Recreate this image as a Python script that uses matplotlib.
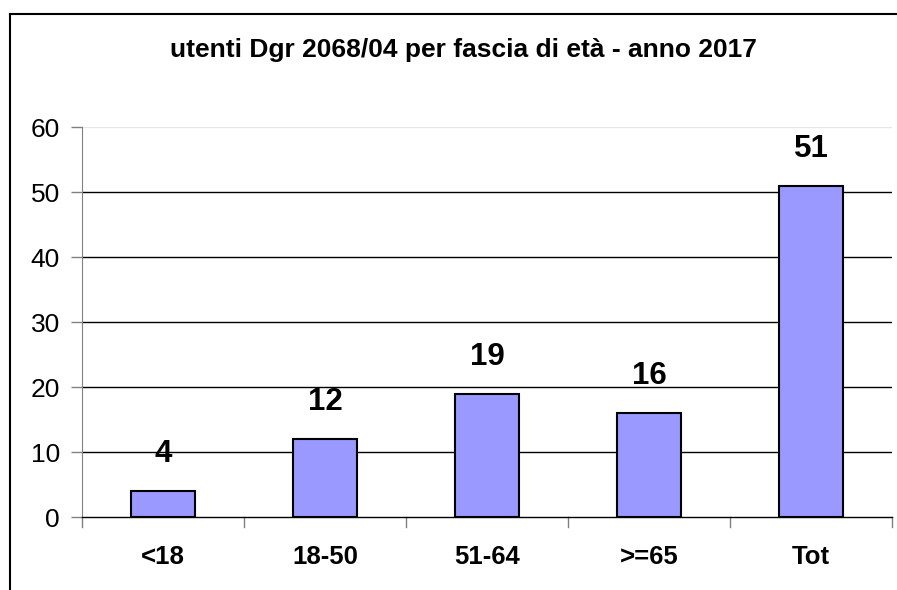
import numpy as np
import matplotlib
matplotlib.use("Agg")
import matplotlib.pyplot as plt
from matplotlib.lines import Line2D

plt.rcParams["font.family"] = ["Liberation Sans", "DejaVu Sans"]

# ---------------------------------------------------------------- data
categories = ["<18", "18-50", "51-64", ">=65", "Tot"]
values = [4, 12, 19, 16, 51]
title = "utenti Dgr 2068/04 per fascia di età - anno 2017"

# ---------------------------------------------------------------- figure
fig = plt.figure(figsize=(8.97, 5.90), dpi=100)
ax = fig.add_axes([0.0914, 0.1237, 0.9030, 0.6610])

x = np.arange(len(categories))
ax.bar(x, values, width=0.4, color="#9999FF", edgecolor="black", linewidth=1.5, zorder=3)

ax.set_xlim(-0.5, len(categories) - 0.5)
ax.set_ylim(0, 60)
ax.set_yticks(np.arange(0, 61, 10))
ax.set_xticks(x)
ax.set_xticklabels(categories, fontsize=18.5, fontweight="bold")
ax.tick_params(axis="x", length=0, pad=20)
ax.tick_params(axis="y", labelsize=19, length=8, width=1, color="#808080", pad=8)

# category boundary ticks along the x axis
for b in np.arange(-0.5, len(categories), 1.0):
    ax.plot([b, b], [0, -1.6], color="#808080", lw=1, clip_on=False, zorder=4)

# gridlines
for g in range(10, 60, 10):
    ax.axhline(g, color="black", lw=1, zorder=1)
ax.axhline(60, color="#e6e6e6", lw=1, zorder=1)

for s in ["top", "right"]:
    ax.spines[s].set_visible(False)
ax.spines["left"].set_color("#808080")
ax.spines["bottom"].set_color("black")
ax.spines["bottom"].set_linewidth(1)
ax.spines["bottom"].set_zorder(5)

for xi, v in zip(x, values):
    ax.annotate(str(v), (xi, v), xytext=(0, 15.5), textcoords="offset points",
                ha="center", va="bottom", fontsize=22.5, fontweight="bold")

fig.text(0.517, 0.915, title, ha="center", va="center", fontsize=19, fontweight="bold")

# chart-area frame (left and top edges visible)
fig.add_artist(Line2D([0.0112, 0.0112], [0.976, 0.0], color="black", lw=1.5,
                      transform=fig.transFigure))
fig.add_artist(Line2D([0.0112, 1.0], [0.976, 0.976], color="black", lw=1.5,
                      transform=fig.transFigure))

fig.savefig("out.png", dpi=100)
